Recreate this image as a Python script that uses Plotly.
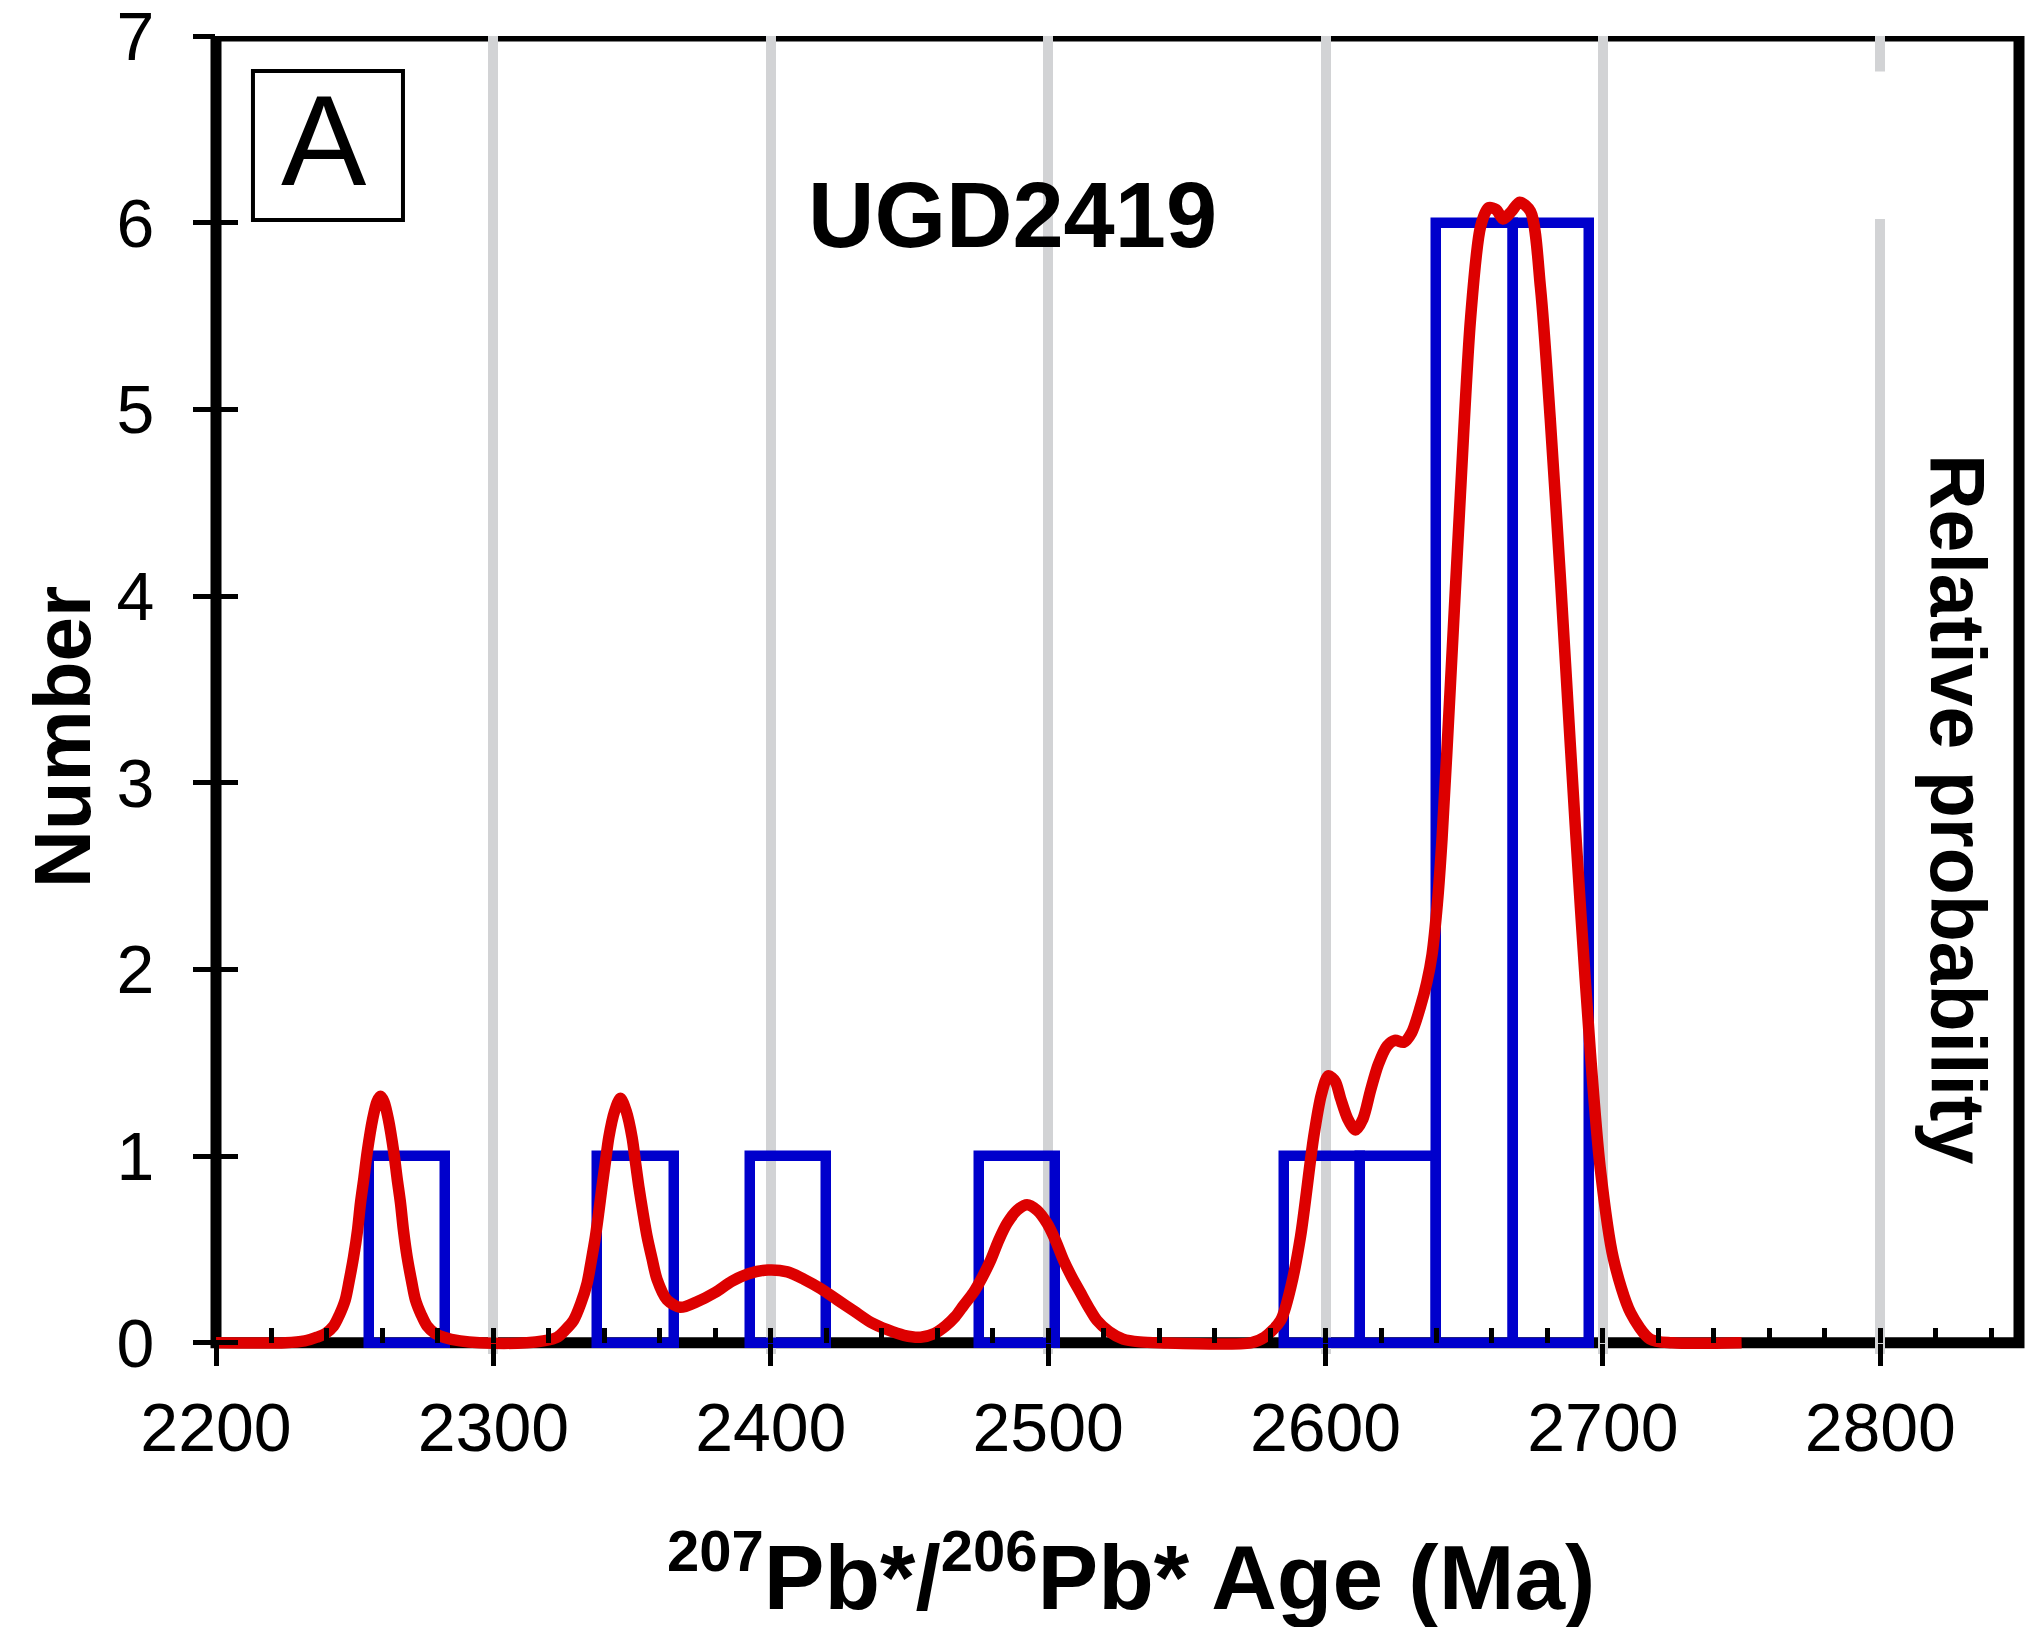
import plotly.graph_objects as go

# ---------------- data ----------------
bin_left = [2255, 2337.5, 2392.5, 2475, 2585, 2612.5, 2640, 2667.5]
bin_width = 27.5
counts = [1, 1, 1, 1, 1, 1, 6, 6]

curve_age = [2200, 2225, 2232, 2236.4, 2239.5, 2242.4, 2244.5, 2246.6, 2248, 2249.6, 2251,
             2252.1, 2253.3, 2254.5, 2256.5, 2258, 2259.3, 2260.6, 2262.1, 2264.1, 2265.3,
             2266.5, 2267.6, 2268.9, 2270.5, 2271.9, 2274, 2276.1, 2279, 2282.1, 2288, 2295,
             2312, 2318, 2323, 2326, 2328.9, 2331.5, 2333.8, 2335.3, 2336.8, 2338, 2339.2,
             2340.4, 2341.6, 2343.7, 2345.8, 2347.9, 2350, 2351.2, 2352.4, 2353.9, 2355.4,
             2357.2, 2359, 2362.6, 2367.4, 2373.4, 2380, 2386, 2392, 2399, 2406, 2412, 2418,
             2424, 2430, 2436, 2442, 2448, 2454, 2459, 2463, 2466.5, 2469.5, 2473.1, 2476.2,
             2479.2, 2482.2, 2485.2, 2488.8, 2492.4, 2496, 2499.6, 2502.6, 2505.6, 2508.6,
             2511.6, 2514.6, 2517.6, 2522, 2527, 2533, 2540, 2573, 2578, 2583.8, 2587.5, 2591,
             2595.7, 2598.5, 2601, 2603.5, 2605.4, 2608, 2610.8, 2613.5, 2616.2, 2619, 2622.2,
             2625, 2628.2, 2631, 2634.2, 2636.5, 2638.4, 2640.3, 2642, 2645, 2648.6, 2652.3,
             2655.9, 2658.8, 2661.5, 2664, 2667, 2670, 2673.9, 2677.5, 2681, 2684.7, 2688.3,
             2691.9, 2695.5, 2699, 2703.8, 2710, 2717, 2725, 2750]
curve_prob = [0, 0, 0.01, 0.03, 0.05, 0.09, 0.15, 0.23, 0.33, 0.46, 0.60,
              0.75, 0.88, 1.02, 1.20, 1.29, 1.32, 1.29, 1.20, 1.02, 0.88,
              0.75, 0.60, 0.46, 0.33, 0.23, 0.15, 0.09, 0.05, 0.03, 0.01, 0,
              0, 0.01, 0.03, 0.07, 0.12, 0.21, 0.32, 0.44, 0.57, 0.70, 0.84,
              0.97, 1.10, 1.24, 1.31, 1.24, 1.10, 0.97, 0.84, 0.70, 0.57,
              0.45, 0.34, 0.23, 0.19, 0.22, 0.27, 0.33, 0.37, 0.39, 0.38, 0.34, 0.29,
              0.23, 0.17, 0.11, 0.07, 0.04, 0.03, 0.05, 0.09, 0.14, 0.20, 0.27, 0.35,
              0.44, 0.55, 0.64, 0.71, 0.74, 0.71, 0.64, 0.55, 0.44, 0.35,
              0.27, 0.19, 0.12, 0.06, 0.02, 0.005, 0, 0, 0.03, 0.12, 0.30, 0.57,
              1.10, 1.33, 1.43, 1.40, 1.31, 1.20, 1.14, 1.20, 1.35, 1.49, 1.59,
              1.62, 1.61, 1.66, 1.80, 1.93, 2.08, 2.35, 2.70, 3.52, 4.54, 5.49,
              5.98, 6.08, 6.07, 6.02, 6.06, 6.11, 6.06, 5.65, 4.95, 4.09, 3.19,
              2.33, 1.55, 0.94, 0.45, 0.16, 0.02, 0, 0]

x_ticks = [2200, 2300, 2400, 2500, 2600, 2700, 2800]
y_ticks = [0, 1, 2, 3, 4, 5, 6, 7]

sample_name = "UGD2419"
panel_label = "A"

# ---------------- figure ----------------
FONT = "Liberation Sans, Arial, sans-serif"
BLUE = "#0000CC"
RED = "#DD0000"
YMIN = -0.06
xpos = -YMIN / (7 - YMIN)

fig = go.Figure()
fig.add_trace(go.Bar(
    x=[b + bin_width / 2 for b in bin_left], y=counts, width=bin_width,
    marker=dict(color="rgba(0,0,0,0)", line=dict(color=BLUE, width=10.5)),
    hoverinfo="skip",
))
fig.add_trace(go.Scatter(
    x=curve_age, y=curve_prob, mode="lines",
    line=dict(color=RED, width=11.5, shape="spline", smoothing=0.8),
    hoverinfo="skip",
))

fig.update_layout(
    width=2027, height=1627,
    margin=dict(l=216, r=8, t=36, b=273, autoexpand=False),
    paper_bgcolor="white", plot_bgcolor="white",
    showlegend=False, bargap=0,
    font=dict(family=FONT, color="black"),
    xaxis=dict(
        range=[2200, 2850], tickvals=x_ticks, ticktext=[str(v) for v in x_ticks],
        ticks="outside", ticklen=22, tickwidth=5, tickcolor="black",
        tickfont=dict(size=68, family=FONT, color="black"),
        showgrid=True, gridcolor="#D2D3D5", gridwidth=10,
        showline=False, zeroline=False, automargin=False,
        anchor="free", position=xpos, ticklabelstandoff=4,
        ticklabeloverflow="allow",
    ),
    xaxis2=dict(
        overlaying="x", matches="x", anchor="free", position=xpos,
        dtick=20, tick0=2200, ticks="inside", ticklen=15, tickwidth=5, tickcolor="black",
        showticklabels=False, showgrid=False, showline=False, zeroline=False, automargin=False,
    ),
    yaxis=dict(
        range=[YMIN, 7], tickvals=y_ticks, ticktext=[str(v) for v in y_ticks],
        ticks="outside", ticklen=22, tickwidth=5, tickcolor="black",
        tickfont=dict(size=68, family=FONT, color="black"),
        showgrid=False, showline=False, zeroline=False, ticklabelstandoff=25,
        automargin=False, ticklabeloverflow="allow",
    ),
    yaxis2=dict(
        overlaying="y", matches="y", anchor="x", side="left",
        tickvals=y_ticks, ticks="inside", ticklen=22, tickwidth=5, tickcolor="black",
        showticklabels=False, showgrid=False, showline=False, zeroline=False, automargin=False,
    ),
)

# invisible trace to activate the overlay axes
fig.add_trace(go.Scatter(x=[2200], y=[0], xaxis="x2", yaxis="y2", mode="markers",
                         marker=dict(opacity=0), hoverinfo="skip"))

shapes = [
    dict(type="rect", xref="paper", yref="y", x0=-0.005, x1=1.005, y0=YMIN, y1=0,
         fillcolor="white", line=dict(width=0), layer="between"),
    dict(type="rect", xref="x", yref="y", x0=2795, x1=2805, y0=6.02, y1=6.81,
         fillcolor="white", line=dict(width=0), layer="between"),
    dict(type="rect", xref="paper", yref="y", x0=0, x1=1, y0=0, y1=7,
         line=dict(color="black", width=11), fillcolor="rgba(0,0,0,0)", layer="between"),
    dict(type="rect", xref="paper", yref="paper", x0=0.0205, x1=0.1037, y0=0.8604, y1=0.9734,
         line=dict(color="black", width=4), fillcolor="rgba(0,0,0,0)", layer="above"),
]
fig.update_layout(shapes=shapes)

annotations = [
    dict(text=panel_label, xref="paper", yref="paper", x=0.0600, y=0.9205,
         showarrow=False, font=dict(size=128, family=FONT, color="black"),
         xanchor="center", yanchor="middle"),
    dict(text="<b>" + sample_name + "</b>", xref="paper", yref="paper", x=0.4415, y=0.8642,
         showarrow=False, font=dict(size=92, family=FONT, color="black"),
         xanchor="center", yanchor="middle"),
    dict(text="<b>Number</b>", xref="paper", yref="paper", x=-0.0854, y=0.4681,
         showarrow=False, textangle=-90, font=dict(size=80, family=FONT, color="black"),
         xanchor="center", yanchor="middle"),
    dict(text="<b>Relative probability</b>", xref="paper", yref="paper", x=0.9662, y=0.4135,
         showarrow=False, textangle=90, font=dict(size=77, family=FONT, color="black"),
         xanchor="center", yanchor="middle"),
    dict(text="<b><sup><span style='font-size:58px'>207</span></sup>Pb*/"
              "<sup><span style='font-size:58px'>206</span></sup>Pb* Age (Ma)</b>",
         xref="paper", yref="paper",
         x=0.5075, y=-0.1660, showarrow=False, font=dict(size=91, family=FONT, color="black"),
         xanchor="center", yanchor="middle"),
]
fig.update_layout(annotations=annotations)

fig.write_html("out.html")
